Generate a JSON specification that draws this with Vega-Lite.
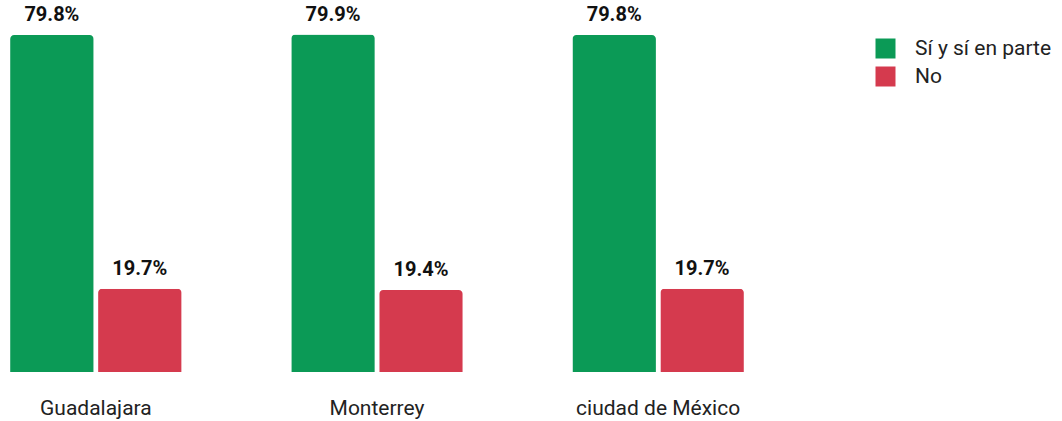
{
  "$schema": "https://vega.github.io/schema/vega-lite/v6.json",
  "width": 754,
  "height": 372,
  "autosize": {"type": "none"},
  "padding": {"left": 0, "top": 0, "right": 308, "bottom": 49},
  "background": "white",
  "config": {"view": {"stroke": null}, "font": "Roboto"},
  "data": {
    "values": [
      {"ciudad": "Guadalajara", "respuesta": "Sí y sí en parte", "valor": 79.8, "etiqueta": "79.8%"},
      {"ciudad": "Guadalajara", "respuesta": "No", "valor": 19.7, "etiqueta": "19.7%"},
      {"ciudad": "Monterrey", "respuesta": "Sí y sí en parte", "valor": 79.9, "etiqueta": "79.9%"},
      {"ciudad": "Monterrey", "respuesta": "No", "valor": 19.4, "etiqueta": "19.4%"},
      {"ciudad": "ciudad de México", "respuesta": "Sí y sí en parte", "valor": 79.8, "etiqueta": "79.8%"},
      {"ciudad": "ciudad de México", "respuesta": "No", "valor": 19.7, "etiqueta": "19.7%"}
    ]
  },
  "encoding": {
    "x": {
      "field": "ciudad", "type": "nominal", "sort": null,
      "scale": {"paddingInner": 0.39, "paddingOuter": 0.036},
      "axis": {"title": null, "domain": false, "ticks": false, "labelAngle": 0, "labelPadding": 25, "labelFontSize": 21, "labelColor": "#222222", "labelFont": "Roboto"}
    },
    "xOffset": {"field": "respuesta", "type": "nominal", "sort": ["Sí y sí en parte", "No"], "scale": {"paddingInner": 0.05}},
    "y": {"field": "valor", "type": "quantitative", "scale": {"domain": [0, 88.1], "nice": false}, "axis": null}
  },
  "layer": [
    {
      "mark": {"type": "bar", "cornerRadiusTopLeft": 4, "cornerRadiusTopRight": 4},
      "encoding": {
        "color": {
          "field": "respuesta", "type": "nominal", "sort": ["Sí y sí en parte", "No"],
          "scale": {"domain": ["Sí y sí en parte", "No"], "range": ["#0b9a56", "#d53a4e"]},
          "legend": {"title": null, "orient": "none", "legendX": 875, "legendY": 38, "symbolType": "square", "symbolSize": 400, "symbolStrokeWidth": 0, "labelFontSize": 21, "labelColor": "#222222", "rowPadding": 6, "labelOffset": 19, "symbolOffset": 0}
        }
      }
    },
    {
      "mark": {"type": "text", "dy": -10, "baseline": "bottom", "fontSize": 20, "fontWeight": "bold", "color": "#111111"},
      "encoding": {"text": {"field": "etiqueta"}}
    }
  ]
}
